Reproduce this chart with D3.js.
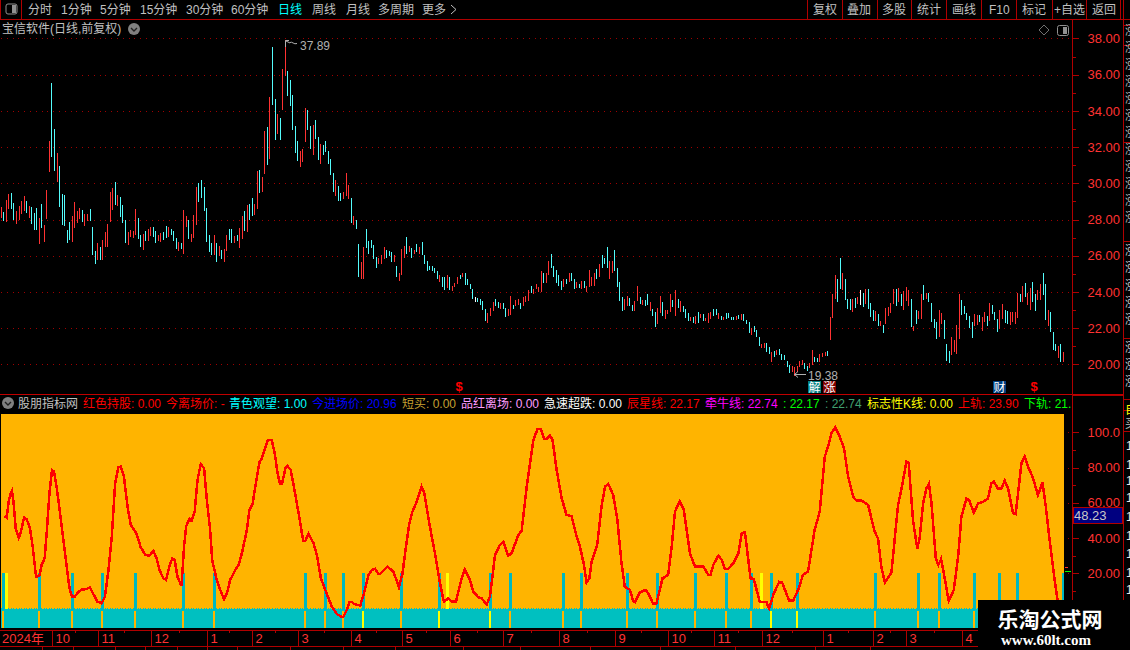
<!DOCTYPE html>
<html><head><meta charset="utf-8">
<script src="https://cdn.jsdelivr.net/npm/d3@7/dist/d3.min.js"></script>
<style>
html,body{margin:0;padding:0;background:#000;overflow:hidden}
svg{display:block}
text{font-family:"Liberation Sans","Noto Sans CJK SC",sans-serif;font-size:12px}
</style></head><body>
<svg id="c" width="1130" height="650"></svg>
<script>
const barHigh=[
28.69,28.41,29.07,29.41,29.46,28.9,28.46,28.74,29.0,29.3,
29.0,28.74,28.69,28.35,28.63,28.07,28.85,27.69,29.63,32.35,
35.52,33.02,31.69,30.96,29.41,29.35,27.41,27.85,28.19,28.96,
28.46,28.63,28.52,28.3,28.3,28.57,27.57,26.24,26.69,26.46,
26.85,27.3,27.74,29.52,29.74,30.07,29.35,29.24,28.8,27.96,
27.3,27.41,27.35,28.57,28.07,27.13,27.19,27.35,27.46,27.57,
27.57,27.35,27.13,27.24,27.3,27.63,27.57,27.46,27.35,26.96,
26.74,26.69,28.52,28.19,27.96,27.19,28.24,29.8,30.02,30.19,
29.8,28.63,27.13,26.69,27.13,26.69,26.52,26.3,26.35,27.13,
27.46,27.46,27.07,27.13,27.52,28.19,28.46,28.8,28.85,29.19,
28.85,30.69,30.74,30.35,32.91,33.13,34.74,37.52,34.63,33.8,
33.63,36.3,37.89,36.19,35.69,34.85,33.19,32.35,31.8,31.91,
34.13,34.02,33.19,33.24,33.52,32.57,32.19,32.13,32.35,31.8,
31.35,30.57,30.19,29.85,29.46,29.52,30.57,29.91,29.19,28.19,
27.96,26.63,25.63,26.46,27.46,26.8,26.85,26.57,25.91,25.85,
26.02,26.46,26.3,26.24,26.19,26.02,25.41,25.02,26.35,26.52,
27.02,26.52,26.41,26.3,26.63,26.46,26.74,26.02,25.69,25.46,
25.46,25.35,25.13,24.91,24.85,24.8,24.96,24.8,24.35,24.52,
24.85,24.96,25.02,25.02,24.69,24.46,24.19,23.74,23.69,23.63,
23.52,23.07,22.85,23.13,23.46,23.63,23.46,23.41,23.41,23.13,
23.07,23.8,23.3,23.57,23.63,23.41,23.74,23.8,24.13,24.35,
24.19,24.46,24.3,25.13,25.02,25.02,25.69,26.07,25.41,25.19,
24.91,24.63,24.69,24.74,25.07,25.02,24.69,24.57,24.46,24.63,
24.63,24.35,25.19,24.85,25.07,25.24,25.57,26.02,25.85,26.46,
25.69,25.69,26.3,25.35,24.57,23.74,23.63,23.8,23.69,23.3,
23.52,24.35,23.74,23.57,23.57,23.91,23.46,23.07,22.91,23.13,
23.8,23.46,23.02,23.02,23.91,23.57,24.13,23.63,23.52,23.24,
23.07,22.85,22.63,22.63,22.69,22.91,22.8,22.8,22.57,22.85,
22.91,23.07,23.07,22.85,22.69,22.63,22.85,22.85,22.63,22.63,
22.69,22.74,22.8,22.8,22.46,22.35,22.02,22.13,21.91,21.52,
21.13,21.19,21.19,20.96,20.69,20.74,20.8,20.85,20.57,20.52,
20.19,19.96,19.91,19.85,19.91,20.19,20.24,20.07,19.91,20.07,
20.8,20.41,20.35,20.57,20.63,20.69,20.74,22.63,23.91,24.91,
24.69,25.85,25.02,24.69,23.63,23.63,23.63,23.69,23.74,24.13,
23.96,24.19,24.19,23.41,23.02,22.96,22.8,22.41,22.19,23.13,
23.19,23.41,24.19,24.19,24.24,23.91,24.07,24.3,24.13,23.63,
22.13,23.02,22.96,23.91,24.41,23.96,23.96,23.41,22.52,22.35,
23.02,22.85,22.46,21.13,20.74,21.52,21.35,22.19,23.91,23.57,
23.24,22.85,22.69,22.35,22.8,22.74,22.74,22.63,22.91,22.69,
23.41,23.3,22.91,22.52,23.02,23.35,23.02,22.96,22.91,22.91,
22.91,23.96,23.91,24.35,24.52,23.96,24.24,24.57,23.91,24.13,
24.46,25.02,24.46,23.02,22.91,21.8,21.13,21.02,21.13,20.69];
const barLow=[
28.07,27.91,27.85,28.57,28.57,28.0,27.74,27.96,28.3,28.46,
28.35,28.07,27.74,27.41,27.41,26.63,27.52,26.74,28.02,30.63,
31.46,30.69,30.07,28.69,27.69,27.63,26.69,26.85,26.74,27.52,
27.8,28.02,27.85,27.63,27.9,27.9,26.02,25.52,25.74,25.74,
25.74,26.46,26.46,27.85,28.52,28.8,28.74,28.13,27.8,26.69,
26.57,27.02,26.96,27.13,26.91,26.46,26.3,26.8,26.8,27.07,
27.02,26.69,26.8,26.74,26.85,26.96,27.02,27.13,26.8,26.35,
26.24,26.35,26.07,27.57,26.91,26.74,26.96,27.69,28.96,29.19,
28.46,26.74,26.19,26.02,26.02,25.63,25.96,25.8,25.63,26.24,
26.85,26.69,26.69,26.8,26.41,26.91,27.35,27.3,27.96,28.19,
28.24,28.57,29.46,29.52,30.52,31.02,31.35,34.3,32.41,32.74,
32.41,34.07,35.91,34.8,34.24,32.96,31.69,31.24,30.91,31.19,
32.3,32.96,31.91,31.57,32.46,31.3,31.07,31.57,31.74,31.07,
30.46,29.52,29.3,29.02,29.02,29.13,29.3,29.13,27.8,27.69,
27.46,24.8,24.69,24.74,26.41,26.07,26.41,25.8,25.3,25.52,
25.57,25.8,25.85,25.96,25.63,25.63,24.8,24.63,24.96,25.85,
26.07,26.19,25.85,26.07,26.19,26.07,26.06,25.52,25.13,25.19,
25.13,25.02,24.74,24.57,24.3,24.13,24.24,24.13,24.07,24.3,
24.46,24.74,24.8,24.41,24.41,24.19,23.63,23.46,23.46,23.3,
23.02,22.41,22.3,22.69,22.96,23.24,23.13,23.07,23.07,22.63,
22.69,22.74,23.07,23.24,23.3,23.07,23.24,23.46,23.52,23.96,
23.91,24.19,24.02,24.02,24.52,24.52,24.96,25.35,24.8,24.52,
24.35,24.13,24.3,24.46,24.57,24.63,24.19,24.24,24.24,24.19,
24.24,24.02,24.3,24.35,24.35,24.74,24.85,25.3,25.57,25.35,
24.74,25.07,25.13,24.3,23.52,22.96,23.02,23.24,23.24,22.96,
22.96,23.52,23.35,23.3,23.24,23.3,22.96,22.69,22.07,22.24,
22.85,22.69,22.52,22.8,22.91,23.19,22.69,23.13,22.91,22.91,
22.57,22.41,22.41,22.3,22.24,22.3,22.57,22.41,22.41,22.3,
22.52,22.69,22.74,22.52,22.46,22.46,22.52,22.57,22.46,22.46,
22.46,22.52,22.46,22.41,22.24,21.74,21.63,21.8,21.52,21.02,
20.91,20.91,20.69,20.57,20.13,20.41,20.52,20.52,20.24,20.24,
19.85,19.52,19.57,19.38,19.57,19.85,19.96,19.74,19.63,19.8,
19.96,20.13,20.13,20.13,20.41,20.46,20.46,21.35,22.57,23.63,
23.46,24.19,24.13,23.57,23.07,23.02,22.91,23.13,23.35,23.3,
23.19,23.35,23.07,22.63,22.41,22.41,22.13,22.13,21.74,22.24,
22.69,22.85,23.35,23.24,23.46,23.24,23.02,23.52,23.24,22.07,
21.85,22.24,22.52,22.52,23.57,23.63,23.46,22.35,22.02,21.41,
21.52,22.24,21.41,20.19,20.07,20.52,20.69,20.57,21.41,22.74,
22.8,22.46,22.02,21.46,22.13,22.19,22.35,21.85,22.35,22.13,
22.41,22.8,22.46,21.8,21.96,22.52,22.3,22.24,22.19,22.35,
22.24,22.57,23.46,23.46,23.74,23.3,23.02,23.46,22.96,23.57,
23.57,23.85,22.46,22.13,21.8,20.8,20.74,20.35,20.13,20.13];
const barDir=("RCRRCCRRRR"+"CRCCCRCRRR"+"CCRCCCCCRR"+"RRCRRCCCRC"+"RRRRRCRCCC"+"RRRRCCRCRR"+"CCRRCCRCCC"+"RCRRCRRRCC"+"CCCCRCRCRR"+"CCRCRRCRCC"+
"RRCRRCRCCR"+"CRRCCCCCRR"+"RCCRCCRCCC"+"CCRCCRRRCR"+"CCRRCCCCCR"+"RRCCCRCRRR"+"CRCRCRCCCC"+"CCCRCCRCRR"+"RCRCCCCWCC"+"CCRRRCCRCC"+
"RRCRRCRRRC"+"RRRRCRRCCC"+"CCRCRCCRCR"+"CRRRRCRCCC"+"RRCCCCRRCC"+"RRCRCCRCCR"+"RCRRRCRCRC"+"CCRCRCRCRR"+"RCCRCRCCCC"+"RCRCCCRCCC"+
"RRCCRCRCCC"+"CCRRRRRCCR"+"RCCRRRCRRR"+"CCRCCCRCRW"+"CRCCCRCRCR"+"RRRCRCRRRC"+"RCRRCRCCCC"+"RRCCCRRRRC"+"CCCCRRCRRC"+"RCCCRRCCRR"+
"RRCRCRRCCR"+"RCCRCCCRCR").split("");

const oscBar=[1.2,2.1,2.9,3.7,4.2,4.8,5.7,6.9,7.6,9,10,11.3,12.4,13.7,15,15.9,17.1,17.9,19,20,20.8,21.9,23.2,24.5,25.8,26.9,27.9,29,30.4,31.7,33.4,35,36.3,37.9,39.6,40.9,42.2,43.6,44.9,46.2,47.1,48.4,49.8,51.1,53.4,55,56.9,58.4,60,61.3,62.4,63.9,65,66.3,67.4,68.4,69.5,71.1,72.1,72.9,74.2,75.1,76.3,77.4,78.7,80,81.1,82.4,83.2,85,86.9,87.9,89,90.3,92.3,93.6,94.9,96.9,97.9,99.2,100.2,101.9,102.8,104.1,105.2,106.7,108,109,110,110.8,112.1,112.9,114.2,115.9,117.3,118.6,119.2,119.9,121.2,123.2,124.5,126.1,127.8,129.1,130.4,132.4,134.4,135,136.3,137.4,138.3,139.2,141.6,142.9,144.9,146.2,147.5,148.8,
149.4,152.3,154.7,156.9,158.3,159.3,161,162.2,163.9,165.8,166.9,169.1,171.1,173.1,174.6,176.4,177.7,179.4,181.6,182.9,184.9,186.2,188.2,189.5,191.5,192.8,194.8,196.7,198.1,200,201.3,204,205.3,207.3,209.9,211.6,212.9,214.2,215.1,216.5,217.5,219.1,221.1,223,225,227,228.3,229.9,230.9,232,232.9,235.1,236.8,238.2,239.5,241.4,243,244.7,246,248,249.3,250,252,254.3,255.9,257.2,258.5,260.9,263.1,264.5,265.8,267.7,269.3,271.7,273.7,277,278.9,279.8,280.9,282.9,284.2,285.5,286.8,288.8,290.8,292.1,293.4,295.6,
296.9,299.2,301.9,302.9,304.8,306.9,308.1,310.8,312.4,314.4,316.3,318.3,320.9,322.9,324.9,326.2,327.5,329,330.8,332.5,334.1,336.1,337.4,339.4,342,344.6,345.9,347.2,348.6,351.2,353.8,355.1,357.1,358,359.7,361.4,362.4,363.7,365,366,367,368.7,369.7,370.8,372.2,373.8,375.8,377.5,378.8,380.8,381.8,383.7,385.4,387.3,389.3,390.6,391.6,393.3,394.6,395.9,397.2,399.2,400.2,402.5,403.8,405.1,407.1,409,410.8,412.1,413.6,415.6,416.9,419];
const oscVal=[52.5,51.6,60.6,65.4,66.9,60.6,45.5,40.2,42.7,51.6,50.8,45.5,35.1,18.1,18.5,24.7,28.5,42.7,65.4,78.6,77.7,68.2,54,38.9,23.8,11.5,6.8,6.8,9.4,10.7,11,11.9,8.3,3.9,3,6.8,21,40.8,71,80.1,80.5,74.8,57.8,47.4,42.3,34.7,30.4,30,32.7,28.5,21.9,17.2,16.2,23.8,28.3,27.6,18.1,12.8,35.1,46.5,50.8,49.7,55,72.9,82,79.6,61.6,44.6,27.6,16.2,8.6,5.3,8.6,16.2,21.9,24.7,31.3,44.6,55.9,59.7,69.2,83.3,85.2,90.9,95.6,95.6,87.1,76.7,70.7,71,79.6,80.9,78.6,65.4,54,42.7,38.3,38.3,42.3,37,30.4,17.2,10.6,5.8,1.1,-3.1,-4.8,-4.6,-0.8,3.6,3.7,2.6,1.7,7.7,19.1,21.9,22.5,19.6,
19.6,23.8,21,12.1,20,31.3,48.4,55,60.6,69.2,65.4,46.5,31.3,14.3,3.9,5.8,3.9,3.9,17.2,22.3,16.2,9.6,6.4,5.8,2.4,6.8,30.4,36.1,38,30,31.3,41.7,44.2,69.2,95.6,101.9,101.9,96.2,96.2,98.1,95.6,78.6,62.6,53.1,52.5,40.8,35.1,24.7,14.7,17.2,26.6,36.1,57.8,69.2,70.7,64.4,51.2,25.7,12.4,10.6,4.3,3.7,9.2,10.6,6.8,2.6,3,17.2,19.1,35.1,55,61,55.9,31.3,23.8,23.8,19.1,19.1,24.7,30,27.6,22.5,22.5,25.7,31.3,42.7,43.3,17.2,
16.8,3.9,3.6,0.1,8.6,15.1,14.7,4.5,4.5,10.6,19.1,21,44.6,55,86.2,91.8,99.4,102.8,97.5,90.9,74.8,63.5,61.2,61.2,58.8,43.6,39.8,23.8,14.9,20.4,58.8,67.3,83.3,82.8,50.2,33.8,40.8,59.7,68.2,70.7,59.7,28.5,24.7,28.1,17.2,4.3,10.6,29.5,52.1,62.5,61.6,54.4,59.7,60.6,62.5,71,72,67.8,68.2,72.6,68.2,54,53.6,82.4,86.2,80.5,73.9,64.4,71.6,57.8,38.9,16.2,3,-8.4];

const signalBars=[1,15,28,40,53,72,84,120,128,135,143,158,173,193,201,222,229,247,259,274,286,296,304,314,345,362,370,384,394,401,419];
const yellowSpikes=[2,176,300];
const yellowBaseBars=[143,173,193,304,314];
const monthBars=[20,38,59,81,99,117,138,158,177,198,220,242,263,281,300,324,344,357,379];
const monthLabels=["10","11","12","1","2","3","4","5","6","7","8","9","10","11","12","1","2","3","4"];
const priceTicks=[38,36,34,32,30,28,26,24,22,20];
const priceMinor=[37,35,33,31,29,27,25,23,21];
const oscTicks=[100,80,60,40,20];
const oscTickLabels=["100.0","80.00","60.00","40.00","20.00"];
const oscMinor=[90,70,50,30,10];
const leftTools=[["分时",28],["1分钟",61],["5分钟",100],["15分钟",140],["30分钟",186],["60分钟",231],["日线",278],["周线",312],["月线",346],["多周期",378],["更多",422]];
const rightTools=[["复权",813],["叠加",847],["多股",882],["统计",917],["画线",952],["F10",989],["标记",1022],["+自选",1054],["返回",1092]];
const toolSeps=[807,842,877,911,946,981,1016,1052,1086,1120];
const legend=[["红色持股: 0.00",83,"#ff0000"],["今离场价: -",166,"#ff0000"],["青色观望: 1.00",229,"#00ffff"],["今进场价: 20.96",312,"#0000ff"],["短买: 0.00",402,"#c8a030"],["品红离场: 0.00",461,"#ff9cff"],["急速超跌: 0.00",544,"#ffffff"],["辰星线: 22.17",627,"#ff0000"],["牵牛线: 22.74",705,"#ff00ff"],[": 22.17",783,"#00ff00"],[": 22.74",825,"#40a070"],["标志性K线: 0.00",867,"#ffff00"],["上轨: 23.90",958,"#ff0000"],["下轨: 21.",1024,"#00ff00"]];
const sideRowsTop=[35,52,69,86,103,120,137,154,171,188,205,222,255,272,290,307,324,352,369,386];
const sideRowsLow=[450,469,485,502,521,540,558,577,594];
const bottomSeps=[42,73,115,145,177,207,237,290,343,395,463,520,590,660,735,815,870];

const RED="#b00000", BRIGHT="#ff3232", GREY="#c0c0c0";
const svg=d3.select("#c");
const defs=svg.append("defs");
defs.append("clipPath").attr("id","legendClip").append("rect").attr("x",0).attr("y",394).attr("width",1071).attr("height",20);
defs.append("clipPath").attr("id","sideClip").append("rect").attr("x",1125).attr("y",0).attr("width",5).attr("height",600);
defs.append("clipPath").attr("id","oscClip").append("rect").attr("x",1).attr("y",414).attr("width",1063).attr("height",214);

const xBar=d3.scaleLinear().domain([0,419]).range([1.3,1063.3]);
const yPrice=d3.scaleLinear().domain([38,20]).range([38.4,364.4]);
const yOsc=d3.scaleLinear().domain([100,20]).range([432.3,573.3]);
const OSC_TOP=110.4, OSC_BOTTOM=-10.8, BASE=0;

const hRule=(x1,x2,y,c=RED,w=1)=>svg.append("line").attr("x1",x1).attr("x2",x2).attr("y1",y).attr("y2",y).attr("stroke",c).attr("stroke-width",w).attr("shape-rendering","crispEdges");
const vRule=(x,y1,y2,c=RED,w=1)=>svg.append("line").attr("x1",x).attr("x2",x).attr("y1",y1).attr("y2",y2).attr("stroke",c).attr("stroke-width",w).attr("shape-rendering","crispEdges");
const label=(s,x,y,c=GREY,size=12,extra={})=>{const t=svg.append("text").attr("x",x).attr("y",y).attr("fill",c).style("font-size",size+"px").text(s);for(const k in extra)t.attr(k,extra[k]);return t;};

// toolbar
hRule(0,1130,19.5);
vRule(21.5,0,19);
vRule(0.5,0,19);
svg.append("rect").attr("x",6).attr("y",4).attr("width",11).attr("height",10).attr("rx",2).attr("fill","none").attr("stroke","#909090");
svg.append("rect").attr("x",12).attr("y",5).attr("width",4).attr("height",8).attr("fill","#909090");
leftTools.forEach(([s,x])=>label(s,x,14,s==="日线"?"#00ffff":GREY));
svg.append("path").attr("d","M451 5L456 9.5L451 14").attr("fill","none").attr("stroke",GREY);
rightTools.forEach(([s,x])=>label(s,x,14));
toolSeps.forEach(x=>vRule(x+.5,0,19));

// title
label("宝信软件(日线,前复权)",2,33);
const chevron=(cx,cy)=>{svg.append("circle").attr("cx",cx).attr("cy",cy).attr("r",6).attr("fill","#808080");
 svg.append("path").attr("d",`M${cx-3} ${cy-1}L${cx} ${cy+2}L${cx+3} ${cy-1}`).attr("fill","none").attr("stroke","#202020").attr("stroke-width",1.4);};
chevron(134,29);
svg.append("path").attr("d","M1044 25L1049 30L1044 35L1039 30Z").attr("fill","none").attr("stroke","#707070");
svg.append("rect").attr("x",1057.5).attr("y",25.5).attr("width",11).attr("height",10).attr("rx",2).attr("fill","none").attr("stroke","#909090");
svg.append("rect").attr("x",1063).attr("y",27).attr("width",4).attr("height",7).attr("fill","#909090");

// price grid + axis
priceTicks.forEach(p=>{
  svg.append("line").attr("x1",1).attr("x2",1072).attr("y1",Math.round(yPrice(p))+.5).attr("y2",Math.round(yPrice(p))+.5)
   .attr("stroke","#a00000").attr("stroke-dasharray","1 4.8").attr("shape-rendering","crispEdges");
});
const priceAxis=d3.axisRight(yPrice).tickValues(priceTicks.concat(priceMinor)).tickSize(6).tickFormat(d=>priceTicks.includes(d)?d3.format(".2f")(d):"");
const gPrice=svg.append("g").attr("transform","translate(1072.5,0)").call(priceAxis);
gPrice.select(".domain").remove();
gPrice.selectAll(".tick line").attr("stroke",RED).attr("shape-rendering","crispEdges").attr("x2",d=>priceTicks.includes(d)?6:3);
gPrice.selectAll(".tick text").attr("x",15).attr("fill",BRIGHT).style("font-size","13px").style("font-family","'Liberation Sans',sans-serif");

// bars
const barColor={R:"#ff3232",C:"#54fcfc",W:"#ffffff"};
svg.append("g").selectAll("rect").data(barHigh).join("rect")
 .attr("x",(d,i)=>Math.floor(xBar(i))).attr("width",1)
 .attr("y",(d,i)=>Math.round(yPrice(d)))
 .attr("height",(d,i)=>Math.max(1,Math.round(yPrice(barLow[i]))-Math.round(yPrice(d))))
 .attr("fill",(d,i)=>barColor[barDir[i]]).attr("shape-rendering","crispEdges");

// extremes
svg.append("path").attr("d","M285.5 47V40.5H289M286 41L290 43M290 42.5C292 41 294 45 297 43.5").attr("fill","none").attr("stroke","#b0b0b0");
label("37.89",300,50,"#b0b0b0",12);
svg.append("path").attr("d","M806 374.5H794.5M798 371.5L794.5 374.5L798 377.5").attr("fill","none").attr("stroke","#b0b0b0");
label("19.38",808,380,"#b0b0b0",12);

// event markers
const dollar=(x)=>label("$",x,391,"#ff0000",13,{"font-weight":"bold","text-anchor":"middle"});
dollar(459);dollar(1034);
[["解",808,"#008080"],["涨",823,"#800000"],["财",993,"#003f7f"]].forEach(([s,x,c])=>{
 svg.append("rect").attr("x",x).attr("y",381).attr("width",13).attr("height",12).attr("fill",c);
 label(s,x+.5,392,"#ffffff",12);
});

// frame
hRule(0,1123,394.5,"#c00000",1);
hRule(1073,1123,395.5);
vRule(1072.5,20,650,RED,1.5);
vRule(1123.5,0,650,RED,1);
[25,45,142,241,338,399,410,431].forEach(y=>hRule(1124,1130,y+.5));

// sub-panel header
chevron(8,403);
label("股朋指标网",18,408,GREY);
const legendG=svg.append("g").attr("clip-path","url(#legendClip)");
legend.forEach(([s,x,c])=>legendG.append("text").attr("x",x).attr("y",408).attr("fill",c).text(s));

// osc grid stubs + axis
oscTicks.forEach(v=>{
 svg.append("line").attr("x1",1).attr("x2",1072).attr("y1",Math.round(yOsc(v))+.5).attr("y2",Math.round(yOsc(v))+.5)
  .attr("stroke","#a00000").attr("stroke-dasharray","1 4.8").attr("shape-rendering","crispEdges");
});
const oscAxis=d3.axisRight(yOsc).tickValues(oscTicks.concat(oscMinor)).tickSize(6).tickFormat(d=>{const i=oscTicks.indexOf(d);return i>=0?oscTickLabels[i]:"";});
const gOsc=svg.append("g").attr("transform","translate(1072.5,0)").call(oscAxis);
gOsc.select(".domain").remove();
gOsc.selectAll(".tick line").attr("stroke",RED).attr("shape-rendering","crispEdges").attr("x2",d=>oscTicks.includes(d)?6:3);
gOsc.selectAll(".tick text").attr("x",15).attr("fill",BRIGHT).style("font-size","13px").style("font-family","'Liberation Sans',sans-serif");

// osc panel: orange ground
const oscG=svg.append("g").attr("clip-path","url(#oscClip)");
oscG.append("rect").attr("x",1).attr("width",1063).attr("y",yOsc(OSC_TOP)).attr("height",yOsc(OSC_BOTTOM)-yOsc(OSC_TOP)).attr("fill","#ffb400").attr("shape-rendering","crispEdges");
// teal base, dotted top edge
oscG.append("g").selectAll("rect").data(barHigh).join("rect")
 .attr("x",(d,i)=>Math.floor(xBar(i))).attr("width",1)
 .attr("y",yOsc(BASE)-1).attr("height",2).attr("fill","#00c0c0").attr("shape-rendering","crispEdges");
oscG.append("rect").attr("x",1).attr("width",1063).attr("y",Math.round(yOsc(BASE))).attr("height",yOsc(OSC_BOTTOM)-yOsc(BASE)).attr("fill","#00c0c0").attr("shape-rendering","crispEdges");
// signal spikes
oscG.append("g").selectAll("rect").data(signalBars).join("rect")
 .attr("x",d=>Math.floor(xBar(d))-1).attr("width",3)
 .attr("y",yOsc(20)).attr("height",yOsc(BASE)-yOsc(20)+1).attr("fill","#00b8c0").attr("shape-rendering","crispEdges");
oscG.append("g").selectAll("rect").data(yellowSpikes).join("rect")
 .attr("x",d=>Math.floor(xBar(d))-1).attr("width",3)
 .attr("y",yOsc(20)).attr("height",yOsc(BASE)-yOsc(20)).attr("fill","#ffff00").attr("shape-rendering","crispEdges");
// base marks
oscG.append("g").selectAll("rect").data(signalBars).join("rect")
 .attr("x",d=>Math.floor(xBar(d))-1).attr("width",2)
 .attr("y",yOsc(BASE)+2).attr("height",yOsc(OSC_BOTTOM)-yOsc(BASE)-2)
 .attr("fill",d=>yellowBaseBars.includes(d)?"#ffff00":"#ffb400").attr("shape-rendering","crispEdges");
// oscillator line
const oscLine=d3.line().x((d,i)=>xBar(oscBar[i])).y(d=>yOsc(d));
oscG.append("path").datum(oscVal).attr("d",oscLine).attr("fill","none").attr("stroke","#ff0000").attr("stroke-width",2.5).attr("shape-rendering","crispEdges");

// last-value marks
hRule(1065,1071,571.5,"#00ff00");
hRule(1065,1068,567.5,"#ff3232");
// current value box
svg.append("rect").attr("x",1073.5).attr("y",507.5).attr("width",49).attr("height",16).attr("fill","#000080").attr("stroke",RED);
label("48.23",1074,520,"#c8c8c8",13);

// time axis
hRule(0,1072,630.5);
hRule(0,1072,646.5);
label("2024年",2,643,BRIGHT,13);
monthBars.forEach((b,i)=>{
 const x=Math.round(xBar(b))+.5;
 vRule(x,630,646);
 label(monthLabels[i],x+3,643,BRIGHT,13);
 const next=i<monthBars.length-1?monthBars[i+1]:419;
 vRule(Math.round(xBar((b+next)/2))+.5,630,633);
});
bottomSeps.forEach(x=>vRule(x+.5,646,650));

// side column (clipped)
const sideG=svg.append("g").attr("clip-path","url(#sideClip)");
sideRowsTop.forEach((y,i)=>sideG.append("text").attr("x",1125).attr("y",y).attr("fill",i<12?"#b8b8b8":"#c8c8c8").text("涨"));
sideG.append("text").attr("x",1125).attr("y",414).attr("fill","#ffff00").text("自");
sideG.append("text").attr("x",1125).attr("y",428).attr("fill","#c0c0c0").text("买");
sideRowsLow.forEach(y=>sideG.append("text").attr("x",1126).attr("y",y).attr("fill","#e8e8e8").text("1"));

// watermark
svg.append("rect").attr("x",978).attr("y",600).attr("width",152).attr("height",50).attr("fill","#000");
label("乐淘公式网",1050,627,"#ffffff",21,{"text-anchor":"middle","font-weight":"bold"}).style("font-family","'Noto Sans CJK SC'");
label("www.60lt.com",1046,645,"#ffffff",15,{"text-anchor":"middle","font-weight":"bold"}).style("font-family","'Liberation Serif'");
</script></body></html>
